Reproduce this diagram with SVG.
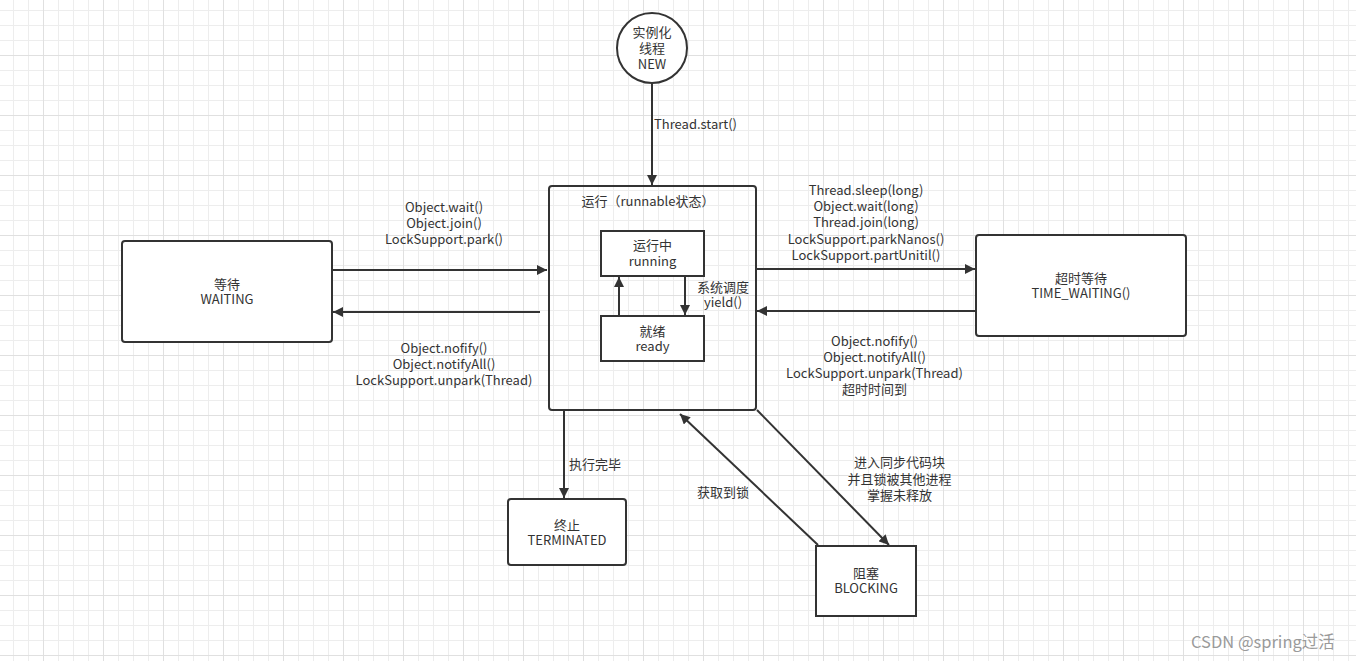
<svg xmlns="http://www.w3.org/2000/svg" width="1356" height="661" viewBox="0 0 1356 661">
  <style>
    .t { font-family: "Noto Sans CJK SC", "Noto Sans", sans-serif; font-size: 13px; fill: #333; }
    .c { text-anchor: middle; }
    .box { fill: #fff; stroke: #333; stroke-width: 2; }
    .edge { fill: none; stroke: #333; stroke-width: 2; }
    .wm { font-family: "Noto Sans CJK SC", "Noto Sans", sans-serif; font-size: 16.5px; fill: #9a9a9a; }
  </style>
  <defs>
    <pattern id="grid" x="43" y="55" width="60" height="60" patternUnits="userSpaceOnUse">
      <path d="M15.5 0V60M30.5 0V60M45.5 0V60M0 15.5H60M0 30.5H60M0 45.5H60" stroke="#ededed" stroke-width="1" fill="none"/>
      <path d="M0.5 0V60M0 0.5H60" stroke="#e0e0e0" stroke-width="1" fill="none"/>
    </pattern>
    <marker id="arr" viewBox="0 0 10 10" refX="10" refY="5" markerWidth="11" markerHeight="10" markerUnits="userSpaceOnUse" orient="auto">
      <path d="M0,0 L10,5 L0,10 z" fill="#333"/>
    </marker>
  </defs>

  <!-- background grid -->
  <rect width="1356" height="661" fill="#fff"/>
  <rect width="1356" height="661" fill="url(#grid)"/>

  <!-- connectors and their labels -->
  <g id="connectors">
    <line class="edge" x1="652" y1="83" x2="652" y2="185" marker-end="url(#arr)"/>
    <text class="t" x="654" y="128.5">Thread.start()</text>

    <line class="edge" x1="332" y1="270" x2="547" y2="270" marker-end="url(#arr)"/>
    <line class="edge" x1="540" y1="312" x2="333" y2="312" marker-end="url(#arr)"/>
    <text class="t c"><tspan x="444" y="212">Object.wait()</tspan><tspan x="444" y="228">Object.join()</tspan><tspan x="444" y="244">LockSupport.park()</tspan></text>
    <text class="t c"><tspan x="444" y="352.5">Object.nofify()</tspan><tspan x="444" y="368.5">Object.notifyAll()</tspan><tspan x="444" y="385">LockSupport.unpark(Thread)</tspan></text>

    <line class="edge" x1="757" y1="269" x2="975" y2="269" marker-end="url(#arr)"/>
    <line class="edge" x1="976" y1="311" x2="757" y2="311" marker-end="url(#arr)"/>
    <text class="t c"><tspan x="866" y="195">Thread.sleep(long)</tspan><tspan x="866" y="211">Object.wait(long)</tspan><tspan x="866" y="227">Thread.join(long)</tspan><tspan x="866" y="243.5">LockSupport.parkNanos()</tspan><tspan x="866" y="260">LockSupport.partUnitil()</tspan></text>
    <text class="t c"><tspan x="874.5" y="346">Object.nofify()</tspan><tspan x="874.5" y="362">Object.notifyAll()</tspan><tspan x="874.5" y="378">LockSupport.unpark(Thread)</tspan><tspan x="874.5" y="394">超时时间到</tspan></text>

    <line class="edge" x1="564" y1="411" x2="564" y2="498" marker-end="url(#arr)"/>
    <text class="t" x="569" y="468.5">执行完毕</text>

    <line class="edge" x1="757" y1="410" x2="889" y2="545" marker-end="url(#arr)"/>
    <text class="t c"><tspan x="899.5" y="467">进入同步代码块</tspan><tspan x="899.5" y="483.5">并且锁被其他进程</tspan><tspan x="899.5" y="500">掌握未释放</tspan></text>

    <line class="edge" x1="818" y1="545" x2="680" y2="414" marker-end="url(#arr)"/>
    <text class="t c" x="723" y="497">获取到锁</text>

    <line class="edge" x1="619" y1="316" x2="619" y2="277" marker-end="url(#arr)"/>
    <line class="edge" x1="685" y1="276" x2="685" y2="315" marker-end="url(#arr)"/>
    <text class="t c"><tspan x="723" y="292">系统调度</tspan><tspan x="723" y="307">yield()</tspan></text>
  </g>

  <!-- new thread -->
  <g id="node-new">
    <circle cx="652" cy="48" r="35" class="box"/>
    <text class="t c"><tspan x="652" y="36.5">实例化</tspan><tspan x="652" y="52.5">线程</tspan><tspan x="652" y="68.5">NEW</tspan></text>
  </g>

  <!-- runnable container -->
  <g id="node-runnable">
    <rect x="549" y="186" width="207" height="224" rx="3" class="box" fill-opacity="0"/>
    <text class="t c" x="648" y="206">运行（runnable状态）</text>
  </g>

  <g id="node-running">
    <rect x="601" y="231" width="103" height="45" class="box"/>
    <text class="t c"><tspan x="652.5" y="250">运行中</tspan><tspan x="652.5" y="266">running</tspan></text>
  </g>

  <g id="node-ready">
    <rect x="601" y="316" width="103" height="45" class="box"/>
    <text class="t c"><tspan x="652.5" y="336">就绪</tspan><tspan x="652.5" y="351">ready</tspan></text>
  </g>

  <g id="node-waiting">
    <rect x="122" y="241" width="210" height="101" rx="3" class="box"/>
    <text class="t c"><tspan x="227" y="289">等待</tspan><tspan x="227" y="304">WAITING</tspan></text>
  </g>

  <g id="node-timed-waiting">
    <rect x="976" y="235" width="210" height="101" rx="3" class="box"/>
    <text class="t c"><tspan x="1081" y="282.5">超时等待</tspan><tspan x="1081" y="298">TIME_WAITING()</tspan></text>
  </g>

  <g id="node-terminated">
    <rect x="508" y="499" width="118" height="66" rx="3" class="box"/>
    <text class="t c"><tspan x="567" y="529.5">终止</tspan><tspan x="567" y="545">TERMINATED</tspan></text>
  </g>

  <g id="node-blocking">
    <rect x="816" y="546" width="100" height="70" class="box"/>
    <text class="t c"><tspan x="866" y="578">阻塞</tspan><tspan x="866" y="593">BLOCKING</tspan></text>
  </g>

  <text class="wm" x="1191" y="648">CSDN @spring过活</text>
</svg>
